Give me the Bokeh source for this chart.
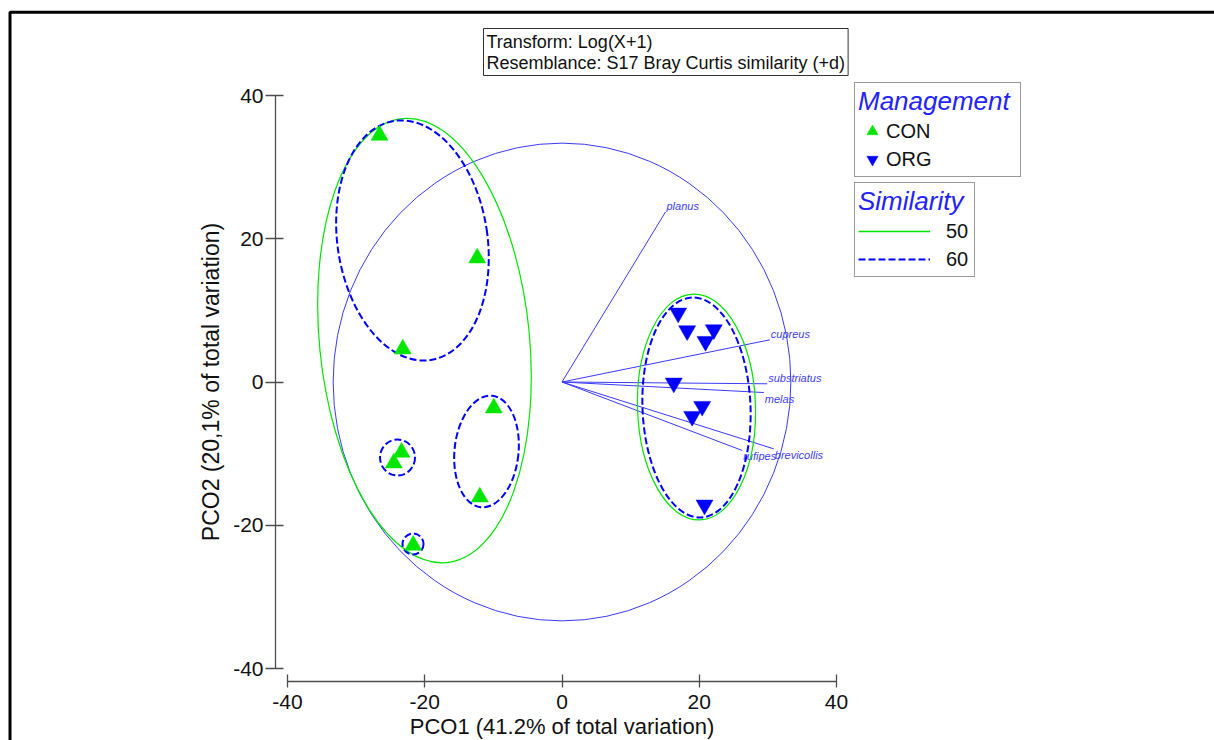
import math
from bokeh.plotting import figure
from bokeh.models import (Range1d, FixedTicker, Legend, LegendItem, Label,
                          BoxAnnotation, ColumnDataSource, PrintfTickFormatter)
from bokeh.core.properties import value
from bokeh.embed import file_html
from bokeh.resources import INLINE

# ---------------- data ----------------
con_x = [-26.59, -12.36, -23.20, -9.94, -23.39, -24.51, -11.98, -21.68]
con_y = [34.44, 17.31, 4.61, -3.63, -9.82, -11.31, -16.06, -22.80]

org_x = [16.93, 18.24, 22.12, 20.91, 16.29, 20.43, 18.97, 20.77]
org_y = [9.63, 7.16, 7.30, 5.68, -0.14, -3.39, -4.79, -17.17]

vec_names = ["planus", "cupreus", "substriatus", "melas", "brevicollis", "rufipes"]
vec_x = [15.08, 30.28, 29.90, 29.41, 30.86, 26.26]
vec_y = [23.74, 5.89, -0.25, -1.47, -9.33, -9.56]

# similarity contours (approximated as ellipses): centre, full size, tilt (rad)
sim50_x = [-20.04, 19.60]
sim50_y = [5.79, -3.49]
sim50_w = [30.6, 17.19]
sim50_h = [62.3, 31.55]
sim50_a = [0.10, 0.03]

sim60_x = [-21.79, -23.97, -21.71, -11.00, 19.60]
sim60_y = [19.76, -10.54, -22.62, -9.70, -3.56]
sim60_w = [21.86, 5.10, 3.06, 9.33, 15.74]
sim60_h = [33.79, 5.03, 2.93, 15.64, 30.72]
sim60_a = [0.15, 0.0, 0.0, -0.10, 0.04]

corr_radius = 33.35

x_ticks = [-40, -20, 0, 20, 40]
y_ticks = [-40, -20, 0, 20, 40]
x_title = "PCO1 (41.2% of total variation)"
y_title = "PCO2 (20,1% of total variation)"

GREEN = "#00e600"
BLUE = "#0000ff"
VBLUE = "#3a3aff"
FONT = "Liberation Sans"
H = 740  # canvas height, screen y measured from the bottom

# ---------------- figure ----------------
p = figure(width=1214, height=H,
           x_range=Range1d(-81.822, 95.082), y_range=Range1d(-50.052, 53.264),
           output_backend="svg", toolbar_location=None,
           min_border_left=0, min_border_right=0,
           min_border_top=0, min_border_bottom=0,
           outline_line_color=None, background_fill_color="white",
           border_fill_color="white")
p.grid.visible = False

for ax, ticks in ((p.xaxis, x_ticks), (p.yaxis, y_ticks)):
    ax.ticker = FixedTicker(ticks=ticks)
    ax.formatter = PrintfTickFormatter(format="%d")
    ax.bounds = (-40, 40)
    ax.major_label_text_font = FONT
    ax.major_label_text_font_size = "21px"
    ax.major_label_text_color = "#111111"
    ax.axis_line_color = "#4d4d4d"
    ax.axis_line_width = 1.3
    ax.major_tick_line_color = "#4d4d4d"
    ax.major_tick_line_width = 1.3
    ax.minor_tick_line_color = None

# axes offset from the data area (PRIMER style)
p.yaxis.fixed_location = -41.749
p.xaxis.fixed_location = -41.815
p.yaxis.major_tick_out = 10
p.yaxis.major_tick_in = 8
p.yaxis.major_label_standoff = 2
p.xaxis.major_tick_out = 6
p.xaxis.major_tick_in = 7
p.xaxis.major_label_standoff = 7

# axis titles
p.add_layout(Label(x=561.5, y=H - 726, x_units="screen", y_units="screen",
                   text=x_title, text_font=FONT, text_font_size="22px",
                   text_color="#111111", text_align="center", text_baseline="middle"))
p.add_layout(Label(x=210, y=H - 381.5, x_units="screen", y_units="screen",
                   text=y_title, angle=math.pi / 2, text_font=FONT,
                   text_font_size="23px", text_color="#111111",
                   text_align="center", text_baseline="middle"))

# correlation circle and vectors
p.ellipse(x=[0], y=[0], width=[2 * corr_radius], height=[2 * corr_radius],
          fill_color=None, line_color=VBLUE, line_width=1)
p.segment(x0=[0] * len(vec_x), y0=[0] * len(vec_y), x1=vec_x, y1=vec_y,
          line_color=VBLUE, line_width=1)

up = [i for i in range(len(vec_y)) if vec_y[i] >= -1]
dn = [i for i in range(len(vec_y)) if vec_y[i] < -1]
for idx, base in ((up, "bottom"), (dn, "top")):
    p.text(x=[vec_x[i] for i in idx], y=[vec_y[i] for i in idx],
           text=[vec_names[i] for i in idx], text_align="left", text_baseline=base,
           x_offset=1, text_font=value(FONT), text_font_style="italic",
           text_font_size="11px", text_color="#4040ff")

# similarity contours
s50 = ColumnDataSource(dict(x=sim50_x, y=sim50_y, w=sim50_w, h=sim50_h, a=sim50_a))
s60 = ColumnDataSource(dict(x=sim60_x, y=sim60_y, w=sim60_w, h=sim60_h, a=sim60_a))
p.ellipse(x="x", y="y", width="w", height="h", angle="a", source=s50,
          fill_color=None, line_color=GREEN, line_width=1.2)
p.ellipse(x="x", y="y", width="w", height="h", angle="a", source=s60,
          fill_color=None, line_color=BLUE, line_width=2, line_dash="7 3")

# samples
con_r = p.scatter(con_x, con_y, marker="triangle", size=17, fill_color=GREEN,
                  line_color=GREEN, line_width=0.5)
org_r = p.scatter(org_x, org_y, marker="inverted_triangle", size=17,
                  fill_color=BLUE, line_color=BLUE, line_width=0.5)

# legend proxies for the contour levels (single point: nothing drawn in plot)
l50 = p.line(x=sim50_x[:1], y=sim50_y[:1], line_color=GREEN, line_width=1.6)
l60 = p.line(x=sim60_x[:1], y=sim60_y[:1], line_color=BLUE, line_width=2,
             line_dash="7 3")

common = dict(border_line_color="#333333", border_line_width=1.5,
              background_fill_color="white", background_fill_alpha=1,
              padding=3, margin=0, spacing=0, title_standoff=0,
              title_text_font=FONT, title_text_font_style="italic",
              title_text_font_size="26px", title_text_color="#2222ff",
              label_text_font=FONT, label_text_font_size="20px",
              label_text_color="#111111", label_height=28, glyph_height=28)

leg1 = Legend(title="Management",
              items=[LegendItem(label="CON", renderers=[con_r]),
                     LegendItem(label="ORG", renderers=[org_r])],
              location=(854, H - 177), glyph_width=28,
              label_standoff=0, label_width=131, **common)
leg2 = Legend(title="Similarity",
              items=[LegendItem(label="50", renderers=[l50]),
                     LegendItem(label="60", renderers=[l60])],
              location=(854, H - 277), glyph_width=72,
              label_standoff=16, label_width=25, **common)
p.add_layout(leg1, "center")
p.add_layout(leg2, "center")

# information box
info = Label(x=483, y=H - 28, x_units="screen", y_units="screen",
             text="Transform: Log(X+1)\nResemblance: S17 Bray Curtis similarity (+d)",
             text_font=FONT, text_font_size="18px", text_color="#111111",
             text_line_height=1.05,
             text_align="left", text_baseline="top",
             border_line_color="#333333", border_line_width=1,
             background_fill_color="white", padding=3)
p.add_layout(info)

# outer frame of the graphic
p.add_layout(BoxAnnotation(left=9.5, right=1400, top=H - 11.7, bottom=-100,
                           left_units="screen", right_units="screen",
                           top_units="screen", bottom_units="screen",
                           fill_alpha=0, line_color="black", line_alpha=1,
                           line_width=3))

open("out.html", "w").write(file_html(p, INLINE))
